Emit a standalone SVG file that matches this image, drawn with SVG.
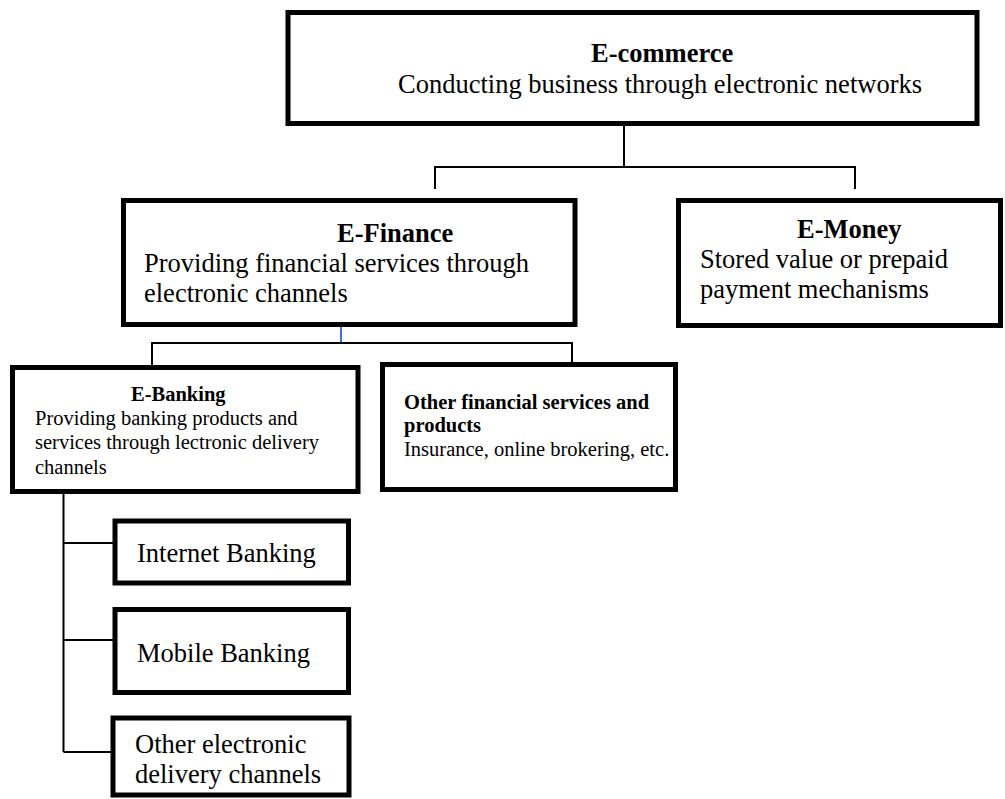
<svg xmlns="http://www.w3.org/2000/svg" width="1005" height="799" viewBox="0 0 1005 799">
<style>
.box{fill:#fff;stroke:#000;stroke-width:5}
.c{fill:none;stroke:#000;stroke-width:2}
.b{stroke:#4472C4;stroke-width:2;fill:none}
text{font-family:"Liberation Serif","Times New Roman",serif;fill:#000}
.L{font-size:26.5px}
.LB{font-size:26.5px;font-weight:bold}
.S{font-size:20.5px}
.SB{font-size:20.5px;font-weight:bold}
</style>
<rect width="1005" height="799" fill="#fff"/>
<g id="connectors">
<path class="c" d="M624,126 V167 M435,189 V167 H855 V189"/>
<path class="b" d="M341,299 V343"/>
<path class="c" d="M152,365 V343 H572 V362"/>
<path class="c" d="M63.5,494 V752 M63.5,543 H113 M63.5,640 H113 M63.5,752 H111"/>
</g>
<g id="ecommerce">
<rect class="box" x="288" y="12.5" width="689" height="111"/>
<text class="LB" x="591" y="62">E-commerce</text>
<text class="L" x="398" y="92.5">Conducting business through electronic networks</text>
</g>
<g id="efinance">
<rect class="box" x="123.5" y="200.5" width="451.5" height="124"/>
<text class="LB" x="337" y="242">E-Finance</text>
<text class="L" x="144" y="272">Providing financial services through</text>
<text class="L" x="144" y="302">electronic channels</text>
</g>
<g id="emoney">
<rect class="box" x="678.5" y="200.5" width="322" height="125"/>
<text class="LB" x="797" y="238">E-Money</text>
<text class="L" x="700" y="268">Stored value or prepaid</text>
<text class="L" x="700" y="298">payment mechanisms</text>
</g>
<g id="ebanking">
<rect class="box" x="12.5" y="367.5" width="345.5" height="124"/>
<text class="SB" x="131" y="401">E-Banking</text>
<text class="S" x="35" y="424.5">Providing banking products and</text>
<text class="S" x="35" y="449">services through lectronic delivery</text>
<text class="S" x="35" y="473.5">channels</text>
</g>
<g id="otherfin">
<rect class="box" x="382.5" y="364.5" width="293" height="125"/>
<text class="SB" x="404" y="409">Other financial services and</text>
<text class="SB" x="404" y="432">products</text>
<text class="S" x="404" y="456">Insurance, online brokering, etc.</text>
</g>
<g id="internet">
<rect class="box" x="115" y="521" width="233.5" height="62"/>
<text class="L" x="137" y="562">Internet Banking</text>
</g>
<g id="mobile">
<rect class="box" x="115" y="609.5" width="233.5" height="83"/>
<text class="L" x="137" y="662">Mobile Banking</text>
</g>
<g id="otherelec">
<rect class="box" x="113" y="718" width="236" height="77"/>
<text class="L" x="135" y="753">Other electronic</text>
<text class="L" x="135" y="783">delivery channels</text>
</g>
</svg>
